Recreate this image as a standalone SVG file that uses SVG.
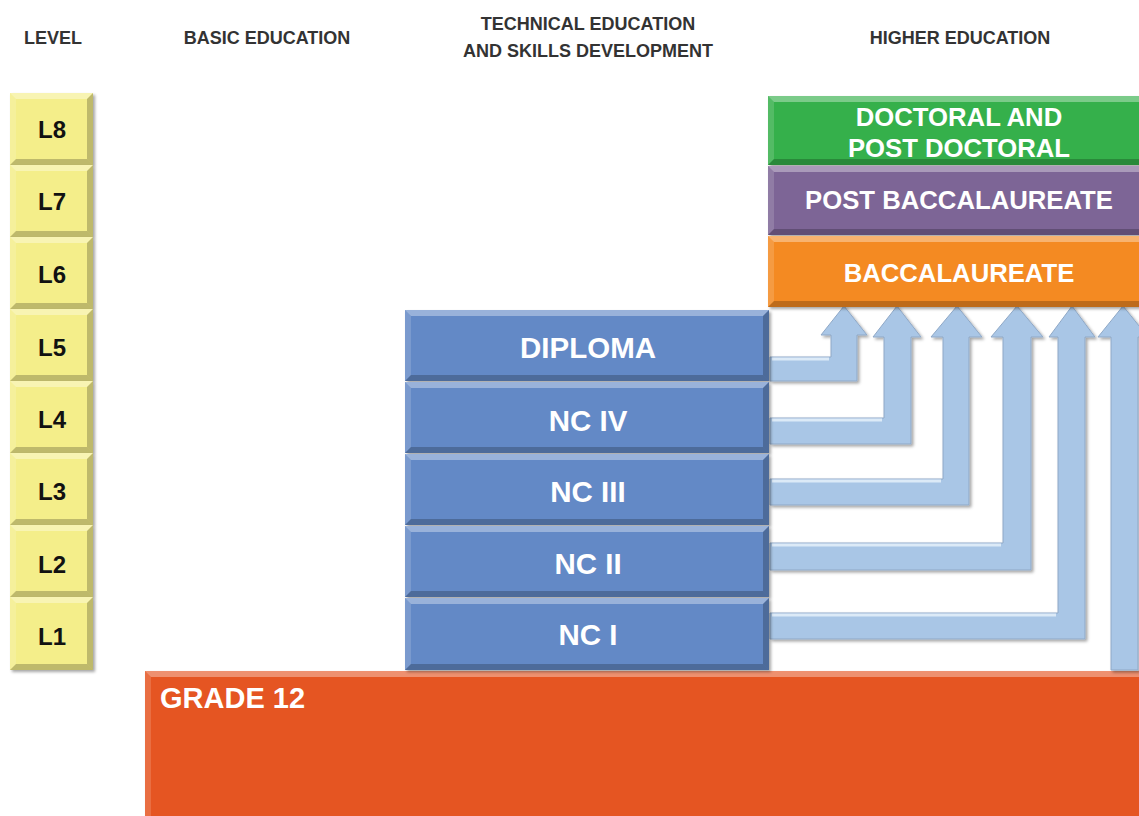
<svg xmlns="http://www.w3.org/2000/svg" width="1139" height="816" viewBox="0 0 1139 816">
<defs>
<filter id="ds" x="-10%" y="-10%" width="130%" height="130%">
<feDropShadow dx="2" dy="2" stdDeviation="1.5" flood-color="#000" flood-opacity="0.35"/>
</filter>
<style>
.hdr{font-family:"Liberation Sans",Arial,sans-serif;font-weight:bold;font-size:18px;fill:#333;text-anchor:middle}
.lv{fill:#F4EE8A;filter:url(#ds)}
.lvt{font-family:"Liberation Sans",Arial,sans-serif;font-weight:bold;font-size:24px;fill:#111;text-anchor:middle}
.tv{fill:#6389C6;filter:url(#ds)}
.tvt{font-family:"Liberation Sans",Arial,sans-serif;font-weight:bold;font-size:29.5px;fill:#fff;text-anchor:middle}
.het{font-family:"Liberation Sans",Arial,sans-serif;font-weight:bold;font-size:25.7px;fill:#fff;text-anchor:middle}
.hl{fill:#fff;opacity:0.35}
.hl2{fill:#fff;opacity:0.15}
.sh{fill:#000;opacity:0.22}
.arr{fill:#A9C6E6;stroke:#8FA8C6;stroke-width:1;filter:url(#ds)}
.ahl{fill:none;stroke:#DCEAF7;stroke-width:3}
</style>
</defs>

<g id="headers">
<text class="hdr" x="267" y="44">BASIC EDUCATION</text>
<text class="hdr" x="53" y="44">LEVEL</text>
<text class="hdr" x="588" y="30">TECHNICAL EDUCATION</text>
<text class="hdr" x="588" y="57">AND SKILLS DEVELOPMENT</text>
<text class="hdr" x="960" y="44">HIGHER EDUCATION</text>
</g>

<g id="grade12">
<rect x="145" y="671" width="1000" height="150" fill="#E55424" filter="url(#ds)"/>
<polygon class="hl" points="145,671 1145,671 1145,677 151,677"/>
<polygon class="hl2" points="145,671 151,677 151,816 145,816"/>
<text x="160" y="708" font-family="Liberation Sans,Arial,sans-serif" font-weight="bold" font-size="29" fill="#fff">GRADE 12</text>
</g>

<g id="level-L8">
<rect class="lv" x="10" y="93" width="83" height="72"/>
<polygon class="hl" points="10,93 93,93 87,99 16,99"/><polygon class="hl2" points="10,93 16,99 16,159 10,165"/>
<polygon class="sh" points="10,165 93,165 87,159 16,159"/><polygon class="sh" points="93,93 93,165 87,159 87,99"/>
<text class="lvt" x="52" y="138">L8</text>
</g>
<g id="level-L7">
<rect class="lv" x="10" y="165" width="83" height="72"/>
<polygon class="hl" points="10,165 93,165 87,171 16,171"/><polygon class="hl2" points="10,165 16,171 16,231 10,237"/>
<polygon class="sh" points="10,237 93,237 87,231 16,231"/><polygon class="sh" points="93,165 93,237 87,231 87,171"/>
<text class="lvt" x="52" y="210">L7</text>
</g>
<g id="level-L6">
<rect class="lv" x="10" y="237" width="83" height="72"/>
<polygon class="hl" points="10,237 93,237 87,243 16,243"/><polygon class="hl2" points="10,237 16,243 16,303 10,309"/>
<polygon class="sh" points="10,309 93,309 87,303 16,303"/><polygon class="sh" points="93,237 93,309 87,303 87,243"/>
<text class="lvt" x="52" y="283">L6</text>
</g>
<g id="level-L5">
<rect class="lv" x="10" y="309" width="83" height="72"/>
<polygon class="hl" points="10,309 93,309 87,315 16,315"/><polygon class="hl2" points="10,309 16,315 16,375 10,381"/>
<polygon class="sh" points="10,381 93,381 87,375 16,375"/><polygon class="sh" points="93,309 93,381 87,375 87,315"/>
<text class="lvt" x="52" y="356">L5</text>
</g>
<g id="level-L4">
<rect class="lv" x="10" y="381" width="83" height="72"/>
<polygon class="hl" points="10,381 93,381 87,387 16,387"/><polygon class="hl2" points="10,381 16,387 16,447 10,453"/>
<polygon class="sh" points="10,453 93,453 87,447 16,447"/><polygon class="sh" points="93,381 93,453 87,447 87,387"/>
<text class="lvt" x="52" y="428">L4</text>
</g>
<g id="level-L3">
<rect class="lv" x="10" y="453" width="83" height="72"/>
<polygon class="hl" points="10,453 93,453 87,459 16,459"/><polygon class="hl2" points="10,453 16,459 16,519 10,525"/>
<polygon class="sh" points="10,525 93,525 87,519 16,519"/><polygon class="sh" points="93,453 93,525 87,519 87,459"/>
<text class="lvt" x="52" y="500">L3</text>
</g>
<g id="level-L2">
<rect class="lv" x="10" y="525" width="83" height="72"/>
<polygon class="hl" points="10,525 93,525 87,531 16,531"/><polygon class="hl2" points="10,525 16,531 16,591 10,597"/>
<polygon class="sh" points="10,597 93,597 87,591 16,591"/><polygon class="sh" points="93,525 93,597 87,591 87,531"/>
<text class="lvt" x="52" y="573">L2</text>
</g>
<g id="level-L1">
<rect class="lv" x="10" y="597" width="83" height="73"/>
<polygon class="hl" points="10,597 93,597 87,603 16,603"/><polygon class="hl2" points="10,597 16,603 16,664 10,670"/>
<polygon class="sh" points="10,670 93,670 87,664 16,664"/><polygon class="sh" points="93,597 93,670 87,664 87,603"/>
<text class="lvt" x="52" y="645">L1</text>
</g>

<g id="connectors">
<polygon class="arr" points="770,357 831,357 831,335 821,335 844,306 867,335 857,335 857,381 770,381"/>
<polyline class="ahl" points="772,359 829,359"/>
<polygon class="arr" points="770,418 884,418 884,337 873,337 897,306 921,337 911,337 911,444 770,444"/>
<polyline class="ahl" points="772,420 882,420"/>
<polygon class="arr" points="770,479 943,479 943,337 931,337 957,306 982,337 969,337 969,505 770,505"/>
<polyline class="ahl" points="772,481 941,481"/>
<polygon class="arr" points="770,543 1003,543 1003,337 991,337 1017,306 1043,337 1031,337 1031,570 770,570"/>
<polyline class="ahl" points="772,545 1001,545"/>
<polygon class="arr" points="770,613 1058,613 1058,337 1049,337 1072,306 1095,337 1085,337 1085,639 770,639"/>
<polyline class="ahl" points="772,615 1056,615"/>
<polygon class="arr" points="1111,670 1111,337 1098,337 1123,306 1148,337 1138,337 1138,670"/>
</g>

<g id="tvet-diploma">
<rect class="tv" x="405" y="310" width="364" height="71"/>
<polygon class="hl" points="405,310 769,310 763,316 411,316"/><polygon class="hl2" points="405,310 411,316 411,375 405,381"/>
<polygon class="sh" points="405,381 769,381 763,375 411,375"/><polygon class="sh" points="769,310 769,381 763,375 763,316"/>
<text class="tvt" x="588" y="358">DIPLOMA</text>
</g>
<g id="tvet-nc4">
<rect class="tv" x="405" y="382" width="364" height="71"/>
<polygon class="hl" points="405,382 769,382 763,388 411,388"/><polygon class="hl2" points="405,382 411,388 411,447 405,453"/>
<polygon class="sh" points="405,453 769,453 763,447 411,447"/><polygon class="sh" points="769,382 769,453 763,447 763,388"/>
<text class="tvt" x="588" y="431">NC IV</text>
</g>
<g id="tvet-nc3">
<rect class="tv" x="405" y="454" width="364" height="71"/>
<polygon class="hl" points="405,454 769,454 763,460 411,460"/><polygon class="hl2" points="405,454 411,460 411,519 405,525"/>
<polygon class="sh" points="405,525 769,525 763,519 411,519"/><polygon class="sh" points="769,454 769,525 763,519 763,460"/>
<text class="tvt" x="588" y="502">NC III</text>
</g>
<g id="tvet-nc2">
<rect class="tv" x="405" y="526" width="364" height="71"/>
<polygon class="hl" points="405,526 769,526 763,532 411,532"/><polygon class="hl2" points="405,526 411,532 411,591 405,597"/>
<polygon class="sh" points="405,597 769,597 763,591 411,591"/><polygon class="sh" points="769,526 769,597 763,591 763,532"/>
<text class="tvt" x="588" y="574">NC II</text>
</g>
<g id="tvet-nc1">
<rect class="tv" x="405" y="598" width="364" height="72"/>
<polygon class="hl" points="405,598 769,598 763,604 411,604"/><polygon class="hl2" points="405,598 411,604 411,664 405,670"/>
<polygon class="sh" points="405,670 769,670 763,664 411,664"/><polygon class="sh" points="769,598 769,670 763,664 763,604"/>
<text class="tvt" x="588" y="645">NC I</text>
</g>

<g id="he-doctoral">
<rect x="768" y="96" width="380" height="69" fill="#35B04B" filter="url(#ds)"/>
<polygon class="hl" points="768,96 1148,96 1142,102 774,102"/><polygon class="hl2" points="768,96 774,102 774,159 768,165"/>
<polygon class="sh" points="768,165 1148,165 1142,159 774,159"/>
<text class="het" x="959" y="126">DOCTORAL AND</text>
<text class="het" x="959" y="157">POST DOCTORAL</text>
</g>
<g id="he-postbacc">
<rect x="768" y="166" width="380" height="69" fill="#7D6596" filter="url(#ds)"/>
<polygon class="hl" points="768,166 1148,166 1142,172 774,172"/><polygon class="hl2" points="768,166 774,172 774,229 768,235"/>
<polygon class="sh" points="768,235 1148,235 1142,229 774,229"/>
<text class="het" x="959" y="209">POST BACCALAUREATE</text>
</g>
<g id="he-bacc">
<rect x="768" y="236" width="380" height="71" fill="#F48A24" filter="url(#ds)"/>
<polygon class="hl" points="768,236 1148,236 1142,242 774,242"/><polygon class="hl2" points="768,236 774,242 774,301 768,307"/>
<polygon class="sh" points="768,307 1148,307 1142,301 774,301"/>
<text class="het" x="959" y="282">BACCALAUREATE</text>
</g>
</svg>
